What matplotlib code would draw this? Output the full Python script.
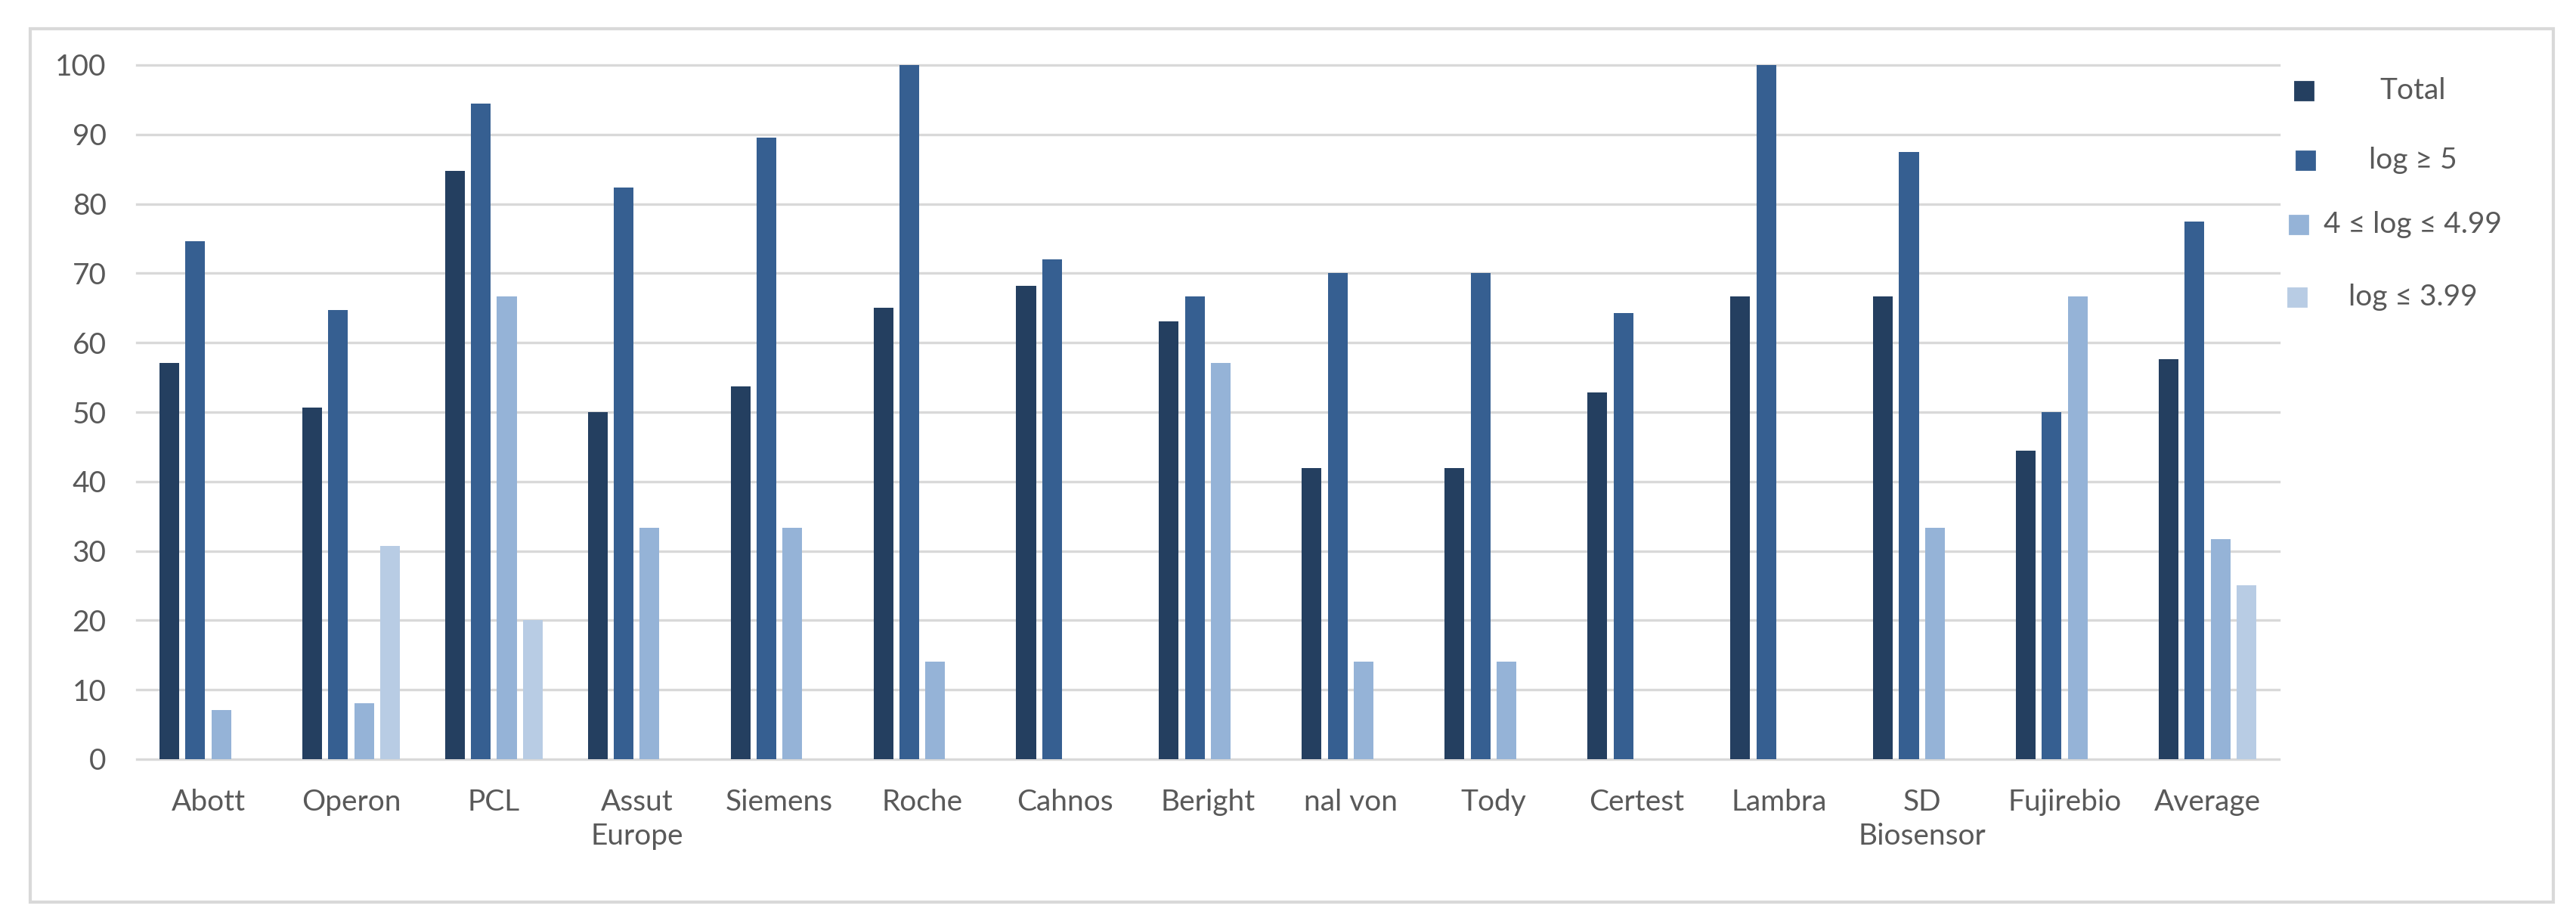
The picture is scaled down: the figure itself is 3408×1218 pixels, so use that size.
import numpy as np
import matplotlib.pyplot as plt
from matplotlib.patches import Rectangle

plt.rcParams["font.family"] = ["Lato", "DejaVu Sans"]

# data
categories = ["Abott", "Operon", "PCL", "Assut\nEurope", "Siemens", "Roche", "Cahnos",
              "Beright", "nal von", "Tody", "Certest", "Lambra", "SD\nBiosensor",
              "Fujirebio", "Average"]
series_names = ["Total", "log \u2265 5", "4 \u2264 log \u2264 4.99", "log \u2264 3.99"]
total = [57.1, 50.6, 84.8, 50.0, 53.7, 65.0, 68.2, 63.1, 41.9, 41.9, 52.8, 66.7, 66.7, 44.4, 57.6]
log_ge5 = [74.6, 64.7, 94.4, 82.4, 89.5, 100.0, 72.0, 66.7, 70.0, 70.0, 64.3, 100.0, 87.5, 50.0, 77.4]
log_4_499 = [7.1, 8.1, 66.7, 33.3, 33.3, 14.0, 0, 57.1, 14.0, 14.0, 0, 0, 33.3, 66.7, 31.7]
log_le399 = [0, 30.7, 20.0, 0, 0, 0, 0, 0, 0, 0, 0, 0, 0, 0, 25.1]
yticks = list(range(0, 101, 10))

colors = ["#243F60", "#365F91", "#95B3D7", "#B8CCE4"]
text_color = "#595959"
grid_color = "#D9D9D9"

W, H, DPI = 3408, 1218, 200
fig = plt.figure(figsize=(W / DPI, H / DPI), dpi=DPI)
ax = fig.add_axes([181 / W, 1 - 1004 / H, (3015 - 181) / W, (1004 - 86) / H])

x = np.arange(len(categories))
pitch = 0.182
width = 0.138
all_series = [total, log_ge5, log_4_499, log_le399]
for i, (vals, col) in enumerate(zip(all_series, colors)):
    ax.bar(x + (i - 1.5) * pitch, vals, width=width, color=col, zorder=3,
           label=series_names[i])

ax.set_xlim(-0.5, len(categories) - 0.5)
ax.set_ylim(0, 100)
ax.set_yticks(yticks)
ax.set_xticks(x)
ax.set_xticklabels(categories, linespacing=1.3)
ax.tick_params(axis="both", length=0, labelsize=14, labelcolor=text_color)
ax.tick_params(axis="y", pad=14.5)
ax.tick_params(axis="x", pad=14)
for s in ax.spines.values():
    s.set_visible(False)
ax.yaxis.grid(True, color=grid_color, linewidth=1.2, zorder=0)
for gl in ax.yaxis.get_gridlines():
    gl.set_clip_on(False)
ax.set_axisbelow(True)

# chart frame
fig.patches.append(Rectangle((40 / W, 1 - 1193 / H), (3378 - 40) / W, (1193 - 38) / H,
                             transform=fig.transFigure, fill=False,
                             edgecolor=grid_color, linewidth=1.5))

# legend: marker on the left, label centred in its column
leg_y = [120, 212, 297, 393]
leg_mx = [3036, 3038, 3029, 3027]
for name, col, yy, mx in zip(series_names, colors, leg_y, leg_mx):
    fig.patches.append(Rectangle((mx / W, 1 - (yy + 12) / H), 24 / W, 24 / H,
                                 transform=fig.transFigure, color=col))
    fig.text(3192 / W, 1 - yy / H, name, ha="center", va="center",
             fontsize=14, color=text_color)

fig.savefig("out.png", dpi=DPI, facecolor="white")
